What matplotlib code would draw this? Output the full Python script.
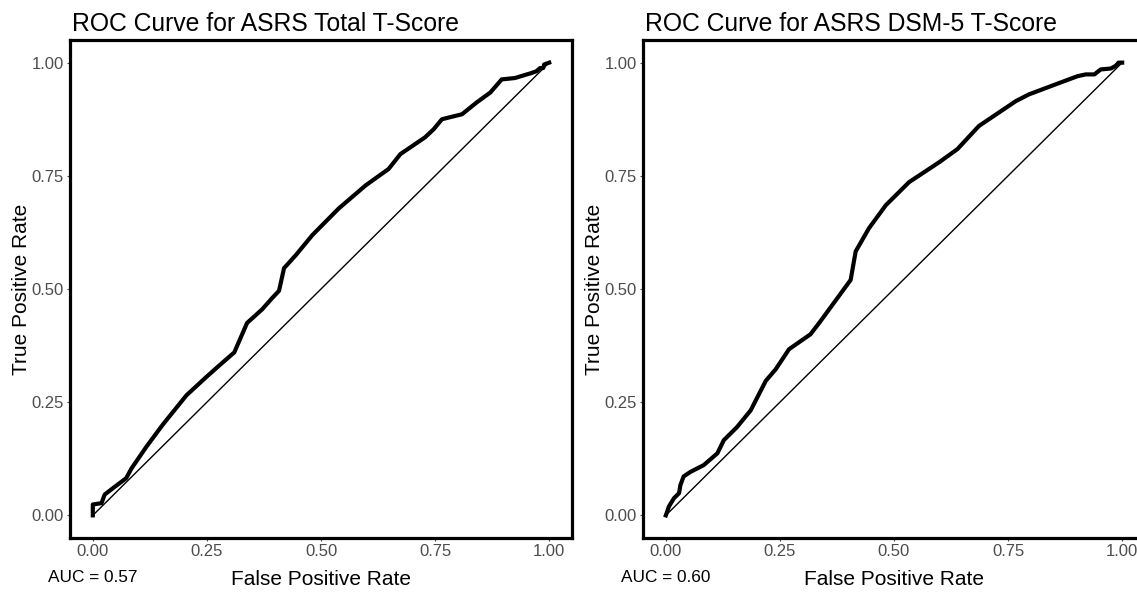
import matplotlib
matplotlib.use("Agg")
import matplotlib.pyplot as plt

plt.rcParams['font.family'] = ['Liberation Sans', 'DejaVu Sans']

# ROC curve for ASRS Total T-Score
total_fpr = [0.0, 0.0, 0.019, 0.026, 0.044, 0.073, 0.085, 0.117, 0.153, 0.205,
             0.248, 0.277, 0.31, 0.338, 0.371, 0.393, 0.408, 0.419, 0.445, 0.481,
             0.539, 0.598, 0.648, 0.674, 0.728, 0.747, 0.765, 0.809, 0.841, 0.871,
             0.896, 0.925, 0.961, 0.972, 0.98, 0.987, 0.989, 1.0]
total_tpr = [0.0, 0.024, 0.027, 0.046, 0.06, 0.082, 0.104, 0.151, 0.2, 0.265,
             0.305, 0.331, 0.36, 0.425, 0.455, 0.48, 0.496, 0.546, 0.575, 0.619,
             0.678, 0.729, 0.765, 0.798, 0.835, 0.853, 0.875, 0.886, 0.912, 0.934,
             0.963, 0.966, 0.977, 0.981, 0.988, 0.988, 0.996, 1.0]
total_auc = "AUC = 0.57"

# ROC curve for ASRS DSM-5 T-Score
dsm_fpr = [0.0, 0.007, 0.018, 0.029, 0.032, 0.039, 0.054, 0.083, 0.113, 0.127,
           0.156, 0.186, 0.219, 0.241, 0.27, 0.317, 0.339, 0.376, 0.405, 0.416,
           0.445, 0.482, 0.533, 0.599, 0.639, 0.686, 0.767, 0.796, 0.862, 0.902,
           0.92, 0.939, 0.953, 0.975, 0.986, 0.992, 1.0]
dsm_tpr = [0.0, 0.02, 0.038, 0.049, 0.067, 0.086, 0.096, 0.111, 0.137, 0.166,
           0.195, 0.232, 0.297, 0.323, 0.367, 0.4, 0.429, 0.48, 0.52, 0.583,
           0.634, 0.685, 0.736, 0.78, 0.809, 0.86, 0.915, 0.93, 0.955, 0.97,
           0.974, 0.974, 0.985, 0.987, 0.993, 1.0, 1.0]
dsm_auc = "AUC = 0.60"

titles = ["ROC Curve for ASRS Total T-Score", "ROC Curve for ASRS DSM-5 T-Score"]
ticks = [0.0, 0.25, 0.5, 0.75, 1.0]
tick_labels = ["0.00", "0.25", "0.50", "0.75", "1.00"]

W, H = 1137, 595
fig = plt.figure(figsize=(W / 100, H / 100), dpi=100)

panels = [
    (70, total_fpr, total_tpr, total_auc, titles[0]),
    (643, dsm_fpr, dsm_tpr, dsm_auc, titles[1]),
]
for left_px, fpr, tpr, auc, title in panels:
    ax = fig.add_axes([left_px / W, (H - 538) / H, 502 / W, 498 / H])
    ax.plot([0, 1], [0, 1], color="black", lw=1.0)
    ax.plot(fpr, tpr, color="black", lw=3.0, solid_joinstyle="round")
    ax.set_xlim(-0.05, 1.05)
    ax.set_ylim(-0.05, 1.05)
    ax.set_xticks(ticks, tick_labels)
    ax.set_yticks(ticks, tick_labels)
    ax.tick_params(colors="#4d4d4d", labelsize=12, length=2.5, width=0.8, pad=2)
    for s in ax.spines.values():
        s.set_linewidth(2.3)
        s.set_color("black")
    ax.set_title(title, loc="left", fontsize=17.8, pad=6.5, x=0.004)
    ax.set_xlabel("False Positive Rate", fontsize=15, labelpad=8)
    ax.set_ylabel("True Positive Rate", fontsize=15, labelpad=0)
    ax.text(-0.044, -0.08, auc, transform=ax.transAxes, fontsize=12.4,
            ha="left", va="center")

fig.savefig("out.png", dpi=100)
